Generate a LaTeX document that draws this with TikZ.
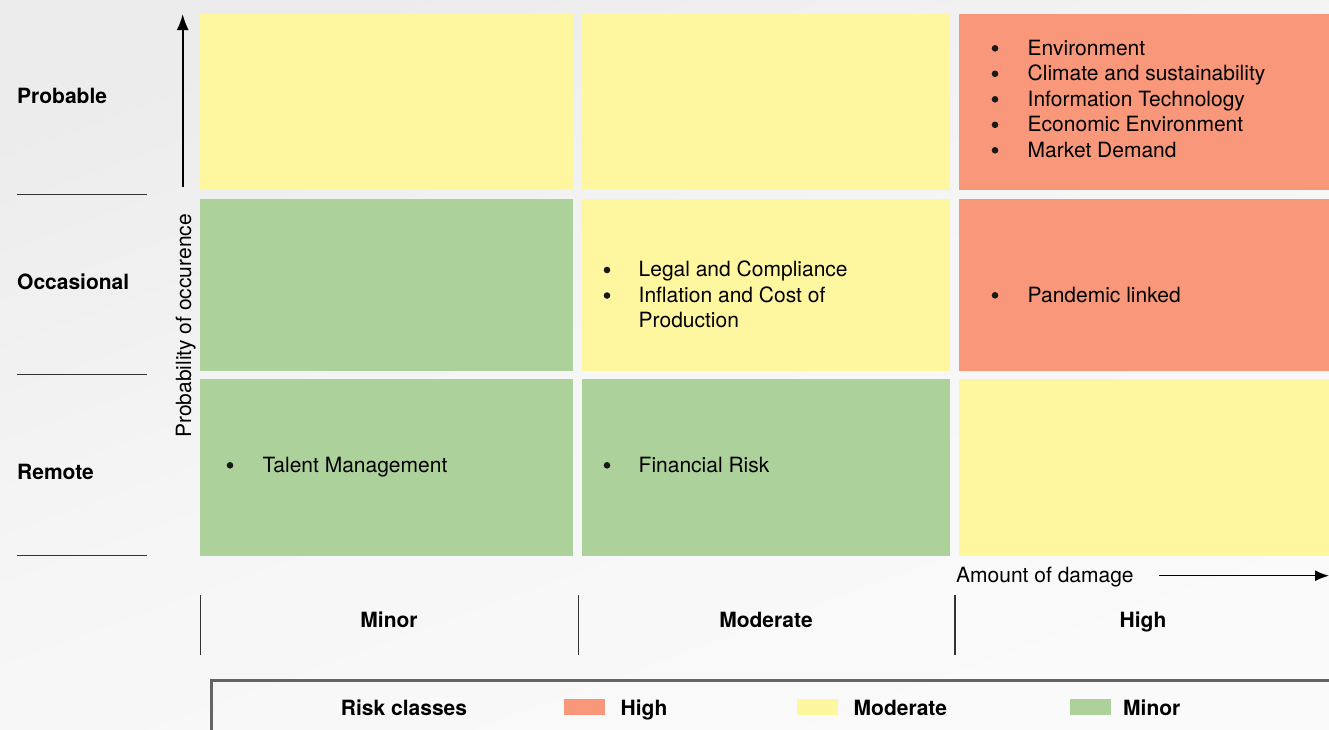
\documentclass[tikz,border=0pt]{standalone}
\usepackage{fontspec}
\setmainfont{TeX Gyre Heros}
\usetikzlibrary{arrows.meta}
\definecolor{rHigh}{RGB}{248,151,122}
\definecolor{rMod}{RGB}{255,247,160}
\definecolor{rMin}{RGB}{173,209,155}
\definecolor{lineGray}{RGB}{51,51,51}
\definecolor{frameGray}{RGB}{100,100,100}
\newcommand\blist[1]{{\fontsize{21}{25.5}\selectfont\begin{tabular}[t]{@{}l@{}}#1\end{tabular}}}
\tikzset{
  cellbox/.style={draw=none, minimum width=#1, inner sep=0, anchor=north west},
  txt/.style={inner sep=0, font=\fontsize{21}{25.5}\selectfont},
  btxt/.style={inner sep=0, font=\fontsize{21}{25.5}\selectfont\bfseries},
  listtxt/.style={inner sep=0, anchor=base west},
  rule/.style={draw=lineGray, line width=1.3pt},
  swatch/.style={inner sep=0, minimum width=41pt, minimum height=15.5pt, anchor=north west},
  bulletdot/.style={fill=black!90},
}
\begin{document}
\begin{tikzpicture}[x=1pt,y=-1pt]
\useasboundingbox (0,0) rectangle (1329,729);
\shade[top color={rgb,255:red,236;green,236;blue,236}, bottom color={rgb,255:red,250;green,250;blue,250}, middle color={rgb,255:red,246;green,246;blue,246}, shading angle=20] (0,0) rectangle (1329,729);
% cells
\node[cellbox=373pt, minimum height=176pt, fill=rMod] (c11) at (200,14) {};
\node[cellbox=368pt, minimum height=176pt, fill=rMod] (c21) at (582,14) {};
\node[cellbox=372pt, minimum height=176pt, fill=rHigh] (c31) at (959,14) {};
\node[cellbox=373pt, minimum height=172pt, fill=rMin] (c12) at (200,199) {};
\node[cellbox=368pt, minimum height=172pt, fill=rMod] (c22) at (582,199) {};
\node[cellbox=372pt, minimum height=172pt, fill=rHigh] (c32) at (959,199) {};
\node[cellbox=373pt, minimum height=177pt, fill=rMin] (c13) at (200,379) {};
\node[cellbox=368pt, minimum height=177pt, fill=rMin] (c23) at (582,379) {};
\node[cellbox=372pt, minimum height=177pt, fill=rMod] (c33) at (959,379) {};
% cell texts
\node[listtxt] (t31) at (1027.5,55) {\blist{Environment\\ Climate and sustainability\\ Information Technology\\ Economic Environment\\ Market Demand}};
\node[listtxt] (t22) at (638.5,276.7) {\blist{Legal and Compliance\\ Inflation and Cost of\\ Production}};
\node[listtxt] (t32) at (1027.5,302) {\blist{Pandemic linked}};
\node[listtxt] (t13) at (262.5,472) {\blist{Talent Management}};
\node[listtxt] (t23) at (638.5,472) {\blist{Financial Risk}};
% bullets
\foreach \k in {0,...,4} {\fill[bulletdot] (995,48.3+25.5*\k) circle (3.3pt);}
\foreach \k in {0,1} {\fill[bulletdot] (607,270+25.5*\k) circle (3.3pt);}
\fill[bulletdot] (995,295.3) circle (3.3pt);
\fill[bulletdot] (230,465.3) circle (3.3pt);
\fill[bulletdot] (607,465.3) circle (3.3pt);
% left labels
\node[btxt, anchor=base west] (lp) at (17,103) {Probable};
\node[btxt, anchor=base west] (lo) at (17,289.5) {Occasional};
\node[btxt, anchor=base west] (lr) at (17,479) {Remote};
\coordinate (r1a) at (17,194.5); \coordinate (r1b) at (147,194.5);
\coordinate (r2a) at (17,374.5); \coordinate (r2b) at (147,374.5);
\coordinate (r3a) at (17,555.5); \coordinate (r3b) at (147,555.5);
\draw[rule] (r1a) -- (r1b);
\draw[rule] (r2a) -- (r2b);
\draw[rule] (r3a) -- (r3b);
% vertical axis
\coordinate (ya0) at (182.7,187);
\coordinate (ya1) at (182.7,14);
\draw[line width=1.7pt, -{Latex[length=16pt,width=12pt]}] (ya0) -- (ya1);
\node[txt, rotate=90, anchor=base] (ylab) at (191,326) {Probability of occurence};
% horizontal axis
\node[txt, anchor=base west] (xlab) at (956,582.7) {Amount of damage};
\coordinate (xa0) at (1159,575.7);
\coordinate (xa1) at (1329,575.7);
\draw[line width=1.4pt, -{Latex[length=14pt,width=11pt]}] (xa0) -- (xa1);
% column labels
\coordinate (v1a) at (200.7,595); \coordinate (v1b) at (200.7,655);
\coordinate (v2a) at (578.3,595); \coordinate (v2b) at (578.3,655);
\coordinate (v3a) at (955,595); \coordinate (v3b) at (955,655);
\draw[rule] (v1a) -- (v1b);
\draw[rule] (v2a) -- (v2b);
\draw[rule] (v3a) -- (v3b);
\node[btxt, anchor=base] (cmin) at (389,627) {Minor};
\node[btxt, anchor=base] (cmod) at (766,627) {Moderate};
\node[btxt, anchor=base] (chigh) at (1143,627) {High};
% legend
\coordinate (fa) at (211,735); \coordinate (fb) at (211,680); \coordinate (fc) at (1335,680);
\draw[draw=frameGray, line width=3pt] (fa) -- (fb) -- (fc);
\node[btxt, anchor=base] (rc) at (404,715) {Risk classes};
\node[swatch, fill=rHigh] (sh) at (564,699) {};
\node[btxt, anchor=base west] (lh) at (620.5,715) {High};
\node[swatch, fill=rMod] (sm) at (797,699) {};
\node[btxt, anchor=base west] (lm) at (853.5,715) {Moderate};
\node[swatch, fill=rMin] (sn) at (1070,699) {};
\node[btxt, anchor=base west] (ln) at (1123,715) {Minor};
\end{tikzpicture}
\end{document}
